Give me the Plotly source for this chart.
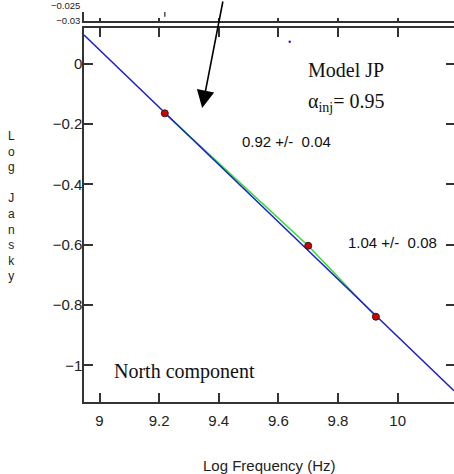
import plotly.graph_objects as go

# Measured spectrum of the north component (log10 Hz, log10 Jy)
log_freq = [9.219, 9.700, 9.927]
log_flux = [-0.1645, -0.6036, -0.839]

# JP model curve (injection index 0.95) across the plotted band
model_freq = [8.948, 10.189]
model_flux = [0.0952, -1.0842]

# Stray model sample left over near the top of the frame
stray_freq = [9.638]
stray_flux = [0.0729]

# Residual panel above (only its lower edge is in view)
resid_freq = [9.219, 9.219]
resid_val = [-0.0248, -0.0276]
resid_ticks = [-0.03, -0.025]
resid_ticktext = ["\u22120.03", "\u22120.025<br> "]

# Local spectral index fits between neighbouring points
fit_labels = ["0.92 +/-\u00a0 0.04", "1.04 +/-\u00a0 0.08"]
fit_label_pos = [(9.4706, -0.2586), (9.8284, -0.5935)]

X_RANGE = [8.948, 10.189]
Y_RANGE = [-1.1217, 0.1184]
RESID_RANGE = [-0.03, -0.025]

AXC = "#333333"
SANS = "Liberation Sans, Arial, Helvetica, sans-serif"
SERIF = "Liberation Serif, Times New Roman, serif"

fig = go.Figure()

fig.add_trace(go.Scatter(x=stray_freq, y=stray_flux, mode="markers",
                         marker=dict(color="#2222ee", size=2.5),
                         xaxis="x", yaxis="y", showlegend=False))
fig.add_trace(go.Scatter(x=log_freq, y=log_flux, mode="lines",
                         line=dict(color="#33e033", width=1.6),
                         xaxis="x", yaxis="y", showlegend=False))
fig.add_trace(go.Scatter(x=model_freq, y=model_flux, mode="lines",
                         line=dict(color="#1a1ad0", width=1.5),
                         xaxis="x", yaxis="y", showlegend=False))
fig.add_trace(go.Scatter(x=log_freq, y=log_flux, mode="markers",
                         marker=dict(color="#d40000", size=7,
                                     line=dict(color="#222222", width=1)),
                         xaxis="x", yaxis="y", showlegend=False))
fig.add_trace(go.Scatter(x=resid_freq, y=resid_val, mode="lines",
                         line=dict(color="#444444", width=1.4),
                         xaxis="x2", yaxis="y2", showlegend=False))
# Empty traces so the right-hand tick axes get drawn
fig.add_trace(go.Scatter(x=[], y=[], xaxis="x", yaxis="y3", showlegend=False))
fig.add_trace(go.Scatter(x=[], y=[], xaxis="x2", yaxis="y4", showlegend=False))

axis_common = dict(showgrid=False, zeroline=False, ticks="inside", automargin=False,
                   tickcolor=AXC, tickwidth=1.5, linecolor=AXC, linewidth=1.5)

fig.update_layout(
    width=454, height=474,
    margin=dict(l=84, r=0, t=0, b=72, pad=0, autoexpand=False),
    paper_bgcolor="white", plot_bgcolor="rgba(0,0,0,0)",
    showlegend=False,
    xaxis=dict(domain=[0, 1], anchor="y", range=X_RANGE, tick0=9, dtick=0.2,
               ticklen=9, showline=True, mirror="ticks",
               tickfont=dict(family=SANS, size=15, color="#222222"),
               ticklabelstandoff=4, **axis_common),
    yaxis=dict(domain=[0, 374 / 402], anchor="x", range=Y_RANGE, tick0=0, dtick=0.2,
               ticklen=9, showline=True,
               tickfont=dict(family=SANS, size=15, color="#222222"),
               ticklabelstandoff=-3, **axis_common),
    yaxis3=dict(overlaying="y", anchor="x", side="right", range=Y_RANGE,
                tick0=0, dtick=0.2, ticklen=8, showline=False,
                showticklabels=False, **axis_common),
    xaxis2=dict(domain=[0, 1], anchor="y2", range=X_RANGE, tick0=9, dtick=0.2,
                ticklen=3, showline=True, showticklabels=False, **axis_common),
    yaxis2=dict(domain=[381 / 402, 390 / 402], anchor="x2", range=RESID_RANGE,
                tickvals=resid_ticks, ticktext=resid_ticktext, ticklen=7,
                showline=True, ticklabelstandoff=0,
                tickfont=dict(family=SANS, size=9.5, color="#222222"),
                **axis_common),
    yaxis4=dict(overlaying="y2", anchor="x2", side="right", range=RESID_RANGE,
                tickvals=resid_ticks[1:], ticklen=7, showline=False,
                showticklabels=False, **axis_common),
)

annotations = [
    dict(text="Model JP", x=9.692, y=-0.0209, xref="x", yref="y",
         xanchor="left", yanchor="middle", showarrow=False,
         font=dict(family=SERIF, size=20, color="#111111")),
    dict(text="\u03b1<sub>inj</sub>= 0.95", x=9.692, y=-0.128, xref="x", yref="y",
         xanchor="left", yanchor="middle", showarrow=False,
         font=dict(family=SERIF, size=20, color="#111111")),
    dict(text="North component", x=9.0404, y=-1.0212, xref="x", yref="y",
         xanchor="left", yanchor="middle", showarrow=False,
         font=dict(family=SERIF, size=20, color="#111111")),
    dict(text="Log Frequency (Hz)", x=0.5027, y=-0.1592, xref="paper", yref="paper",
         xanchor="center", yanchor="middle", showarrow=False,
         font=dict(family=SANS, size=15, color="#222222")),
    dict(text="L<br>o<br>g<br> <br>J<br>a<br>n<br>s<br>k<br>y",
         x=-0.1946, y=0.4880, xref="paper", yref="paper",
         xanchor="center", yanchor="middle", align="center", showarrow=False,
         font=dict(family=SANS, size=12, color="#222222")),
    # Pointer arrow coming down from the panel above
    dict(text="", x=9.3443, y=-0.1470, xref="x", yref="y",
         ax=21, ay=-118, showarrow=True, arrowhead=2, arrowsize=2.2,
         arrowwidth=1.6, arrowcolor="#000000", standoff=0),
]
for label, (fx, fy) in zip(fit_labels, fit_label_pos):
    annotations.append(dict(text=label, x=fx, y=fy, xref="x", yref="y",
                            xanchor="left", yanchor="middle", showarrow=False,
                            font=dict(family=SANS, size=15, color="#111111")))

fig.update_layout(annotations=annotations)

fig.write_html("out.html")
